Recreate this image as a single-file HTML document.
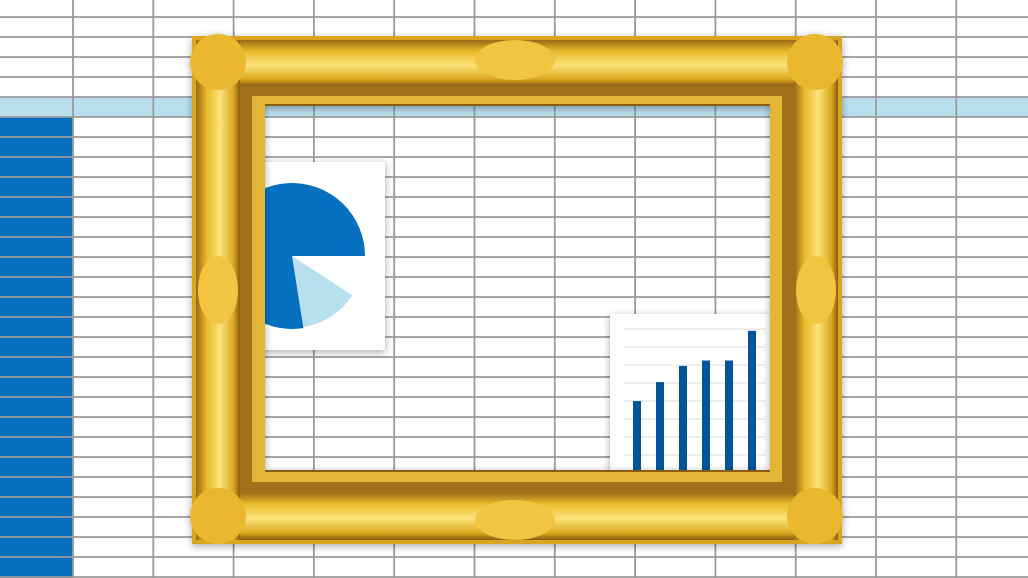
<!DOCTYPE html>
<html><head><meta charset="utf-8"><style>
html,body{margin:0;padding:0;width:1028px;height:578px;overflow:hidden;background:#fff;font-family:"Liberation Sans",sans-serif}
svg{display:block}
</style></head><body>
<svg width="1028" height="578" viewBox="0 0 1028 578">
<defs>
<linearGradient id="goldH" x1="0" y1="0" x2="1" y2="0">
<stop offset="0" stop-color="#9a6a14"/><stop offset="0.25" stop-color="#e9bb2c"/><stop offset="0.55" stop-color="#fbe27a"/><stop offset="0.85" stop-color="#dca820"/><stop offset="1" stop-color="#8a5c10"/></linearGradient>
<linearGradient id="goldV" x1="0" y1="0" x2="0" y2="1">
<stop offset="0" stop-color="#9a6a14"/><stop offset="0.25" stop-color="#e9bb2c"/><stop offset="0.55" stop-color="#fbe27a"/><stop offset="0.85" stop-color="#dca820"/><stop offset="1" stop-color="#8a5c10"/></linearGradient>
<filter id="sh" x="-10%" y="-10%" width="120%" height="120%"><feDropShadow dx="0" dy="2" stdDeviation="4" flood-opacity="0.35"/></filter>
</defs>
<rect width="1028" height="578" fill="#fff"/>
<rect x="0" y="97" width="1028" height="20" fill="#b8dfee"/>
<rect x="0" y="117" width="73" height="461" fill="#0570c0"/>
<g id="grid" stroke="#9a9a9a" stroke-width="1.8"></g>

<g filter="url(#sh)">
<rect x="258" y="162" width="127" height="188" fill="#fff"/>
</g>
<g id="pie"></g>

<g filter="url(#sh)">
<rect x="610" y="314" width="160" height="160" fill="#fff"/>
</g>
<g id="bars"></g>

<g filter="url(#sh)">
<path fill-rule="evenodd" fill="#d9a624" d="M192 36 H842 V544 H192 Z M265 106 H770 V470 H265 Z"/>
<rect x="197" y="40" width="640" height="46" fill="url(#goldV)"/>
<rect x="197" y="492" width="640" height="48" fill="url(#goldV)"/>
<rect x="196" y="40" width="44" height="500" fill="url(#goldH)"/>
<rect x="794" y="40" width="44" height="500" fill="url(#goldH)"/>
<path fill-rule="evenodd" fill="#a0701e" d="M240 86 H794 V492 H240 Z M252 96 H782 V482 H252 Z"/>
<path fill-rule="evenodd" fill="#e3b535" d="M252 96 H782 V482 H252 Z M265 106 H770 V470 H265 Z"/>
<rect x="265" y="104" width="505" height="2" fill="#8a5c10"/>
<rect x="265" y="470" width="505" height="2" fill="#8a5c10"/>
<circle cx="218" cy="62" r="28" fill="#e9b82e"/><circle cx="815" cy="62" r="28" fill="#e9b82e"/>
<circle cx="218" cy="516" r="28" fill="#e9b82e"/><circle cx="815" cy="516" r="28" fill="#e9b82e"/>
<ellipse cx="515" cy="60" rx="40" ry="20" fill="#f0c640"/><ellipse cx="515" cy="520" rx="40" ry="20" fill="#f0c640"/>
<ellipse cx="218" cy="290" rx="20" ry="34" fill="#f0c640"/><ellipse cx="816" cy="290" rx="20" ry="34" fill="#f0c640"/>
</g>
</svg>
<script>
const NS='http://www.w3.org/2000/svg';
const g=document.getElementById('grid');
for(let i=0;i<13;i++){const x=73+i*80.3;const l=document.createElementNS(NS,'line');
l.setAttribute('x1',x);l.setAttribute('x2',x);l.setAttribute('y1',0);l.setAttribute('y2',578);g.appendChild(l);}
for(let i=0;i<29;i++){const y=17+i*20;const l=document.createElementNS(NS,'line');
l.setAttribute('x1',0);l.setAttribute('x2',1028);l.setAttribute('y1',y);l.setAttribute('y2',y);g.appendChild(l);}

// pie data (percent of full circle; the remainder is an empty gap)
const pieLabels=['main','secondary'];
const pieValues=[77.5,13.3];
const pieColors=['#0570c0','#b8dfee'];
const pieRadii=[73,72];
const pg=document.getElementById('pie');
const pcx=292,pcy=256;
// drawn clockwise ending at 0 rad (3 o'clock), light slice starts just after the gap
const gapFrac=1-pieValues.reduce((s,v)=>s+v,0)/100;
let cur=gapFrac*2*Math.PI; // light slice start
const order=[1,0];
order.forEach(i=>{
  const sw=pieValues[i]/100*2*Math.PI;
  const s=cur,e=cur+sw; cur=e;
  const r=pieRadii[i];
  const x1=pcx+r*Math.cos(s),y1=pcy+r*Math.sin(s),x2=pcx+r*Math.cos(e),y2=pcy+r*Math.sin(e);
  const large=sw>Math.PI?1:0;
  const p=document.createElementNS(NS,'path');
  p.setAttribute('d',`M${pcx} ${pcy} L${x1} ${y1} A${r} ${r} 0 ${large} 1 ${x2} ${y2} Z`);
  p.setAttribute('fill',pieColors[i]);
  
  
  pg.appendChild(p);
});

// bar data
const barCategories=['c1','c2','c3','c4','c5','c6'];
const barValues=[4,5.05,5.95,6.25,6.25,7.9];
const gridTicks=[1,2,3,4,5,6,7,8];
const bg=document.getElementById('bars');
const x0=637,step=23,base=473,unit=18,bw=8;
const ys=v=>base-v*unit;
gridTicks.forEach(t=>{const l=document.createElementNS(NS,'line');
l.setAttribute('x1',624);l.setAttribute('x2',766);l.setAttribute('y1',ys(t));l.setAttribute('y2',ys(t));
l.setAttribute('stroke','#dedede');l.setAttribute('stroke-width','1');


bg.appendChild(l);});
barValues.forEach((v,i)=>{const r=document.createElementNS(NS,'rect');
r.setAttribute('x',x0+i*step-bw/2);r.setAttribute('y',ys(v));r.setAttribute('width',bw);r.setAttribute('height',base-ys(v));
r.setAttribute('fill','#02559a');


bg.appendChild(r);});
</script>
</body></html>
